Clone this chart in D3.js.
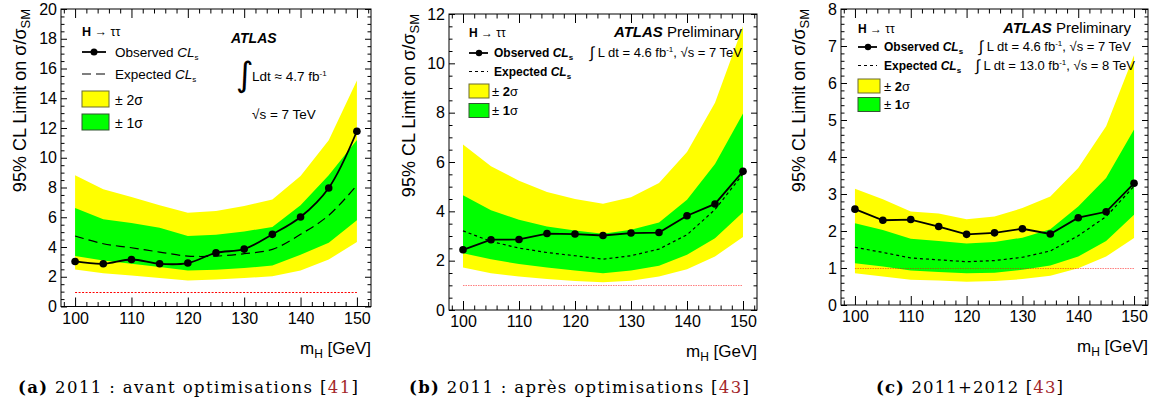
<!DOCTYPE html>
<html>
<head>
<meta charset="utf-8">
<script src="https://cdn.jsdelivr.net/npm/d3@7"></script>
<style>
    body { margin: 0; background: #fff; }
    svg { display: block; font-family: "Liberation Sans", Arial, sans-serif; }
</style>
</head>
<body>
<svg id="chart" width="1152" height="409"></svg>
<script>
// mass points (GeV)
const massPoints = [100, 105, 110, 115, 120, 125, 130, 135, 140, 145, 150];
const xTickLabels = [100, 110, 120, 130, 140, 150];

// (a) 2011 : avant optimisations
const obsA = [3.03, 2.87, 3.16, 2.87, 2.92, 3.61, 3.86, 4.85, 6.02, 7.97, 11.78];
const expA = [4.74, 4.22, 3.95, 3.66, 3.39, 3.39, 3.55, 3.84, 4.85, 6.13, 8.15];
const up1A = [6.62, 5.86, 5.61, 5.30, 4.74, 4.83, 5.05, 5.34, 6.80, 8.82, 11.2];
const dn1A = [3.39, 3.10, 2.87, 2.65, 2.42, 2.47, 2.58, 2.76, 3.48, 4.29, 5.79];
const up2A = [8.82, 7.88, 7.36, 6.80, 6.31, 6.42, 6.75, 7.20, 8.77, 11.18, 15.2];
const dn2A = [2.49, 2.24, 2.09, 1.91, 1.75, 1.82, 1.91, 2.04, 2.42, 3.16, 4.33];
const yTicksA = [0, 2, 4, 6, 8, 10, 12, 14, 16, 18, 20];

// (b) 2011 : apres optimisations
const obsB = [2.44, 2.85, 2.86, 3.10, 3.08, 3.02, 3.12, 3.14, 3.82, 4.30, 5.62];
const expB = [3.21, 2.78, 2.51, 2.33, 2.20, 2.06, 2.20, 2.47, 3.05, 4.07, 5.52];
const up1B = [4.65, 4.04, 3.66, 3.39, 3.22, 3.09, 3.25, 3.55, 4.47, 5.92, 7.97];
const dn1B = [2.30, 2.06, 1.86, 1.72, 1.60, 1.49, 1.60, 1.79, 2.24, 2.91, 3.96];
const up2B = [6.71, 5.83, 5.24, 4.78, 4.50, 4.31, 4.57, 5.15, 6.41, 8.40, 11.5];
const dn2B = [1.72, 1.49, 1.36, 1.26, 1.18, 1.13, 1.19, 1.36, 1.65, 2.17, 2.96];
const yTicksB = [0, 2, 4, 6, 8, 10, 12];

// (c) 2011+2012
const obsC = [2.59, 2.29, 2.31, 2.12, 1.91, 1.95, 2.06, 1.92, 2.36, 2.52, 3.29];
const expC = [1.56, 1.42, 1.27, 1.22, 1.17, 1.20, 1.29, 1.46, 1.87, 2.39, 3.21];
const up1C = [2.21, 2.03, 1.79, 1.73, 1.66, 1.70, 1.82, 2.05, 2.66, 3.43, 4.74];
const dn1C = [1.13, 1.04, 0.93, 0.89, 0.86, 0.87, 0.95, 1.07, 1.31, 1.73, 2.44];
const up2C = [3.14, 2.86, 2.53, 2.47, 2.32, 2.39, 2.62, 2.93, 3.70, 4.83, 6.75];
const dn2C = [0.86, 0.77, 0.68, 0.66, 0.63, 0.65, 0.70, 0.79, 0.99, 1.31, 1.81];
const yTicksC = [0, 1, 2, 3, 4, 5, 6, 7, 8];

// SM reference line
const smLine = [1, 1];
const smRange = [100, 150];

const yellow = '#ffff00';
const green = '#00ff00';
const refRed = '#a3262a';

const svg = d3.select('#chart');
svg.append('rect').attr('width', 1152).attr('height', 409).attr('fill', '#fff');

function drawPanel(p) {
    let x = d3.scaleLinear().domain([97.5, 152.5]).range([p.left, p.right]);
    let y = d3.scaleLinear().domain([0, p.yMax]).range([p.bottom, p.top]);

    let g = svg.append('g');

    let rows = massPoints.map(function (m, i) {
        return {m: m, obs: p.obs[i], exp: p.exp[i], up1: p.up1[i], dn1: p.dn1[i], up2: p.up2[i], dn2: p.dn2[i]};
    });

// bands
    g.append('path')
        .datum(rows)
        .attr('fill', yellow)
        .attr('d', d3.area().x(d => x(d.m)).y0(d => y(d.dn2)).y1(d => y(d.up2)));

    g.append('path')
        .datum(rows)
        .attr('fill', green)
        .attr('d', d3.area().x(d => x(d.m)).y0(d => y(d.dn1)).y1(d => y(d.up1)));

// SM line at 1 (snapped to the pixel grid so the dots stay red)
    g.append('line')
        .attr('x1', x(smRange[0])).attr('x2', x(smRange[1]))
        .attr('y1', Math.round(y(smLine[0])) + 0.5).attr('y2', Math.round(y(smLine[1])) + 0.5)
        .attr('stroke', p.smColor)
        .attr('stroke-width', 1)
        .attr('stroke-opacity', p.smOpacity)
        .attr('stroke-dasharray', p.smDash);

    let curve = p.smooth ? d3.curveCatmullRom.alpha(0.5) : d3.curveLinear;

// expected
    g.append('path')
        .datum(rows)
        .attr('fill', 'none')
        .attr('stroke', '#000')
        .attr('stroke-width', 1.2)
        .attr('stroke-dasharray', p.expDash)
        .attr('d', d3.line().curve(curve).x(d => x(d.m)).y(d => y(d.exp)));

// observed
    g.append('path')
        .datum(rows)
        .attr('fill', 'none')
        .attr('stroke', '#000')
        .attr('stroke-width', 1.8)
        .attr('d', d3.line().curve(curve).x(d => x(d.m)).y(d => y(d.obs)));

    g.selectAll('.obsdot')
        .data(rows)
        .enter().append('circle')
        .attr('cx', d => x(d.m))
        .attr('cy', d => y(d.obs))
        .attr('r', 3.8)
        .attr('fill', '#000');

// axes (ticks inside the frame, ROOT style)
    let xMinor = d3.range(98, 153, 2).filter(v => v % 10 !== 0);
    let yMinor = d3.range(0, p.yMax + 1e-6, p.yMinor).filter(v => Math.abs(v / p.yMajor - Math.round(v / p.yMajor)) > 1e-6);

    function style(sel) {
        sel.select('.domain').remove();
        sel.selectAll('line').attr('stroke', '#000');
        sel.selectAll('text')
            .attr('font-family', '"Liberation Sans", Arial, sans-serif')
            .attr('font-size', 16)
            .attr('fill', '#000');
    }

    g.append('g').attr('transform', 'translate(0,' + p.bottom + ')')
        .call(d3.axisBottom(x).tickValues(xTickLabels).tickSize(-9).tickPadding(6).tickFormat(d3.format('d')))
        .call(style);
    g.append('g').attr('transform', 'translate(0,' + p.bottom + ')')
        .call(d3.axisBottom(x).tickValues(xMinor).tickSize(-4.5).tickFormat(''))
        .call(style);
    g.append('g').attr('transform', 'translate(0,' + p.top + ')')
        .call(d3.axisTop(x).tickValues(xTickLabels).tickSize(-9).tickFormat(''))
        .call(style);
    g.append('g').attr('transform', 'translate(0,' + p.top + ')')
        .call(d3.axisTop(x).tickValues(xMinor).tickSize(-4.5).tickFormat(''))
        .call(style);

    g.append('g').attr('transform', 'translate(' + p.left + ',0)')
        .call(d3.axisLeft(y).tickValues(p.yTicks).tickSize(-6).tickPadding(4).tickFormat(d3.format('d')))
        .call(style);
    g.append('g').attr('transform', 'translate(' + p.left + ',0)')
        .call(d3.axisLeft(y).tickValues(yMinor).tickSize(-3.5).tickFormat(''))
        .call(style);
    g.append('g').attr('transform', 'translate(' + p.right + ',0)')
        .call(d3.axisRight(y).tickValues(p.yTicks).tickSize(-6).tickFormat(''))
        .call(style);
    g.append('g').attr('transform', 'translate(' + p.right + ',0)')
        .call(d3.axisRight(y).tickValues(yMinor).tickSize(-3.5).tickFormat(''))
        .call(style);

// frame
    g.append('rect')
        .attr('x', p.left).attr('y', p.top)
        .attr('width', p.right - p.left).attr('height', p.bottom - p.top)
        .attr('fill', 'none')
        .attr('stroke', '#000')
        .attr('stroke-width', 1);

// y title
    let yt = g.append('text')
        .attr('transform', 'translate(' + p.yTitleX + ',' + p.top + ') rotate(-90)')
        .attr('text-anchor', 'end')
        .attr('font-size', 18);
    yt.append('tspan').text('95% CL Limit on σ/σ');
    yt.append('tspan').attr('font-size', 13).attr('dy', 4).text('SM');

// x title
    let xt = g.append('text')
        .attr('x', p.right)
        .attr('y', p.bottom + 47)
        .attr('text-anchor', 'end')
        .attr('font-size', 17);
    xt.append('tspan').text('m');
    xt.append('tspan').attr('font-size', 12).attr('dy', 4).text('H');
    xt.append('tspan').attr('dy', -4).text(' [GeV]');

// caption
    let cap = g.append('text')
        .attr('x', p.capX)
        .attr('y', 393)
        .attr('font-family', '"DejaVu Serif", "Liberation Serif", serif')
        .attr('font-size', 16.5)
        .attr('textLength', p.capLen)
        .attr('lengthAdjust', 'spacing');
    cap.append('tspan').attr('font-weight', 'bold').text(p.capTag);
    cap.append('tspan').text(' ' + p.capText + ' [');
    cap.append('tspan').attr('fill', refRed).text(p.capRef);
    cap.append('tspan').text(']');

    p.legend(g);
}

// CL_s helper
function clsText(t, label, bold) {
    t.append('tspan').attr('font-weight', bold ? 'bold' : 'normal').text(label + ' ');
    t.append('tspan').attr('font-weight', bold ? 'bold' : 'normal').attr('font-style', 'italic').text('CL');
    t.append('tspan').attr('font-weight', bold ? 'bold' : 'normal').attr('font-size', 8).attr('dy', 3).text('s');
}

function fbText(t, prefix, lumi, energy) {
    t.append('tspan').attr('font-size', 16).attr('dy', 1).text('∫');
    t.append('tspan').attr('dy', -1).text(' L dt = ' + lumi + ' fb');
    t.append('tspan').attr('font-size', 8).attr('dy', -5).text('-1');
    t.append('tspan').attr('dy', 5).text(', √s = ' + energy + ' TeV');
}

function legendBox(g, bx, by, w, h, fill, border) {
    g.append('rect').attr('x', bx).attr('y', by).attr('width', w).attr('height', h)
        .attr('fill', fill).attr('stroke', border).attr('stroke-width', 1);
}

function legendA(g) {
    let fs = 12.5;
    let t = g.append('text').attr('x', 82).attr('y', 36).attr('font-size', fs);
    t.append('tspan').attr('font-weight', 'bold').text('H');
    t.append('tspan').text(' → ττ');

    g.append('line').attr('x1', 82).attr('x2', 106).attr('y1', 52).attr('y2', 52)
        .attr('stroke', '#000').attr('stroke-width', 1.8);
    g.append('circle').attr('cx', 94).attr('cy', 52).attr('r', 3.5).attr('fill', '#000');
    clsText(g.append('text').attr('x', 115).attr('y', 57).attr('font-size', 13.5), 'Observed', false);

    g.append('line').attr('x1', 82).attr('x2', 108).attr('y1', 74).attr('y2', 74)
        .attr('stroke', '#000').attr('stroke-width', 1.2).attr('stroke-dasharray', '9,5');
    clsText(g.append('text').attr('x', 115).attr('y', 79).attr('font-size', 13.5), 'Expected', false);

    legendBox(g, 82, 91, 27, 16, yellow, '#6b6b30');
    g.append('text').attr('x', 115).attr('y', 105).attr('font-size', 14).text('± 2σ');
    legendBox(g, 82, 114, 27, 16, green, '#335533');
    g.append('text').attr('x', 115).attr('y', 128).attr('font-size', 14).text('± 1σ');

    g.append('text').attr('x', 231).attr('y', 43).attr('font-size', 14)
        .attr('font-weight', 'bold').attr('font-style', 'italic').text('ATLAS');

    g.append('text').attr('x', 236).attr('y', 86).attr('font-size', 34)
        .attr('font-family', '"DejaVu Sans", sans-serif').text('∫');
    let l = g.append('text').attr('x', 252).attr('y', 81).attr('font-size', 13.5);
    l.append('tspan').text('Ldt ≈ 4.7 fb');
    l.append('tspan').attr('font-size', 8).attr('dy', -5).text('-1');
    g.append('text').attr('x', 252).attr('y', 119).attr('font-size', 13.5).text('√s = 7 TeV');
}

function legendPrelim(g, o) {
    let fs = 12;
    let t = g.append('text').attr('x', o.x).attr('y', o.yH).attr('font-size', fs);
    t.append('tspan').attr('font-weight', 'bold').text('H');
    t.append('tspan').text(' → ττ');

    let a = g.append('text').attr('x', o.atlasEnd).attr('y', o.yAtlas)
        .attr('text-anchor', 'end').attr('font-size', 15);
    a.append('tspan').attr('font-weight', 'bold').attr('font-style', 'italic').text('ATLAS');
    a.append('tspan').text(' Preliminary');

    g.append('line').attr('x1', o.x).attr('x2', o.x + 19).attr('y1', o.yObs).attr('y2', o.yObs)
        .attr('stroke', '#000').attr('stroke-width', 1.8);
    g.append('circle').attr('cx', o.x + 10).attr('cy', o.yObs).attr('r', 3.2).attr('fill', '#000');
    clsText(g.append('text').attr('x', o.textX).attr('y', o.yObs + 4).attr('font-size', fs), 'Observed', true);
    fbText(g.append('text').attr('x', o.lumiEnd1).attr('y', o.yObs + 4).attr('text-anchor', 'end').attr('font-size', 13), '', '4.6', '7');

    g.append('line').attr('x1', o.x).attr('x2', o.x + 19).attr('y1', o.yExp).attr('y2', o.yExp)
        .attr('stroke', '#000').attr('stroke-width', 1.2).attr('stroke-dasharray', '3,3');
    clsText(g.append('text').attr('x', o.textX).attr('y', o.yExp + 4).attr('font-size', fs), 'Expected', true);
    if (o.lumiEnd2) {
        fbText(g.append('text').attr('x', o.lumiEnd2).attr('y', o.yExp + 4).attr('text-anchor', 'end').attr('font-size', 13), '', '13.0', '8');
    }

    legendBox(g, o.x, o.yBox2, o.boxW, 14, yellow, '#6b6b30');
    let s2 = g.append('text').attr('x', o.boxTextX).attr('y', o.yBox2 + 11.5).attr('font-size', 13);
    s2.append('tspan').text('± ');
    s2.append('tspan').attr('font-weight', 'bold').text('2');
    s2.append('tspan').text('σ');
    legendBox(g, o.x, o.yBox1, o.boxW, 14, green, '#335533');
    let s1 = g.append('text').attr('x', o.boxTextX).attr('y', o.yBox1 + 11.5).attr('font-size', 13);
    s1.append('tspan').text('± ');
    s1.append('tspan').attr('font-weight', 'bold').text('1');
    s1.append('tspan').text('σ');
}

drawPanel({
    left: 61, right: 371, top: 9, bottom: 306.5,
    yMax: 20, yMajor: 2, yMinor: 0.5, yTicks: yTicksA,
    obs: obsA, exp: expA, up1: up1A, dn1: dn1A, up2: up2A, dn2: dn2A,
    smooth: true, expDash: '9,5',
    smColor: '#ff0000', smOpacity: 1, smDash: '2,1.5',
    yTitleX: 26,
    capX: 18, capLen: 340, capTag: '(a)', capText: '2011 : avant optimisations', capRef: '41',
    legend: legendA
});

drawPanel({
    left: 449, right: 757, top: 14, bottom: 310,
    yMax: 12, yMajor: 2, yMinor: 0.5, yTicks: yTicksB,
    obs: obsB, exp: expB, up1: up1B, dn1: dn1B, up2: up2B, dn2: dn2B,
    smooth: false, expDash: '3,3',
    smColor: '#ff0000', smOpacity: 0.5, smDash: '1.5,1',
    yTitleX: 415,
    capX: 409, capLen: 340, capTag: '(b)', capText: '2011 : après optimisations', capRef: '43',
    legend: function (g) {
        legendPrelim(g, {x: 469, yH: 37, atlasEnd: 742, yAtlas: 37, yObs: 53, yExp: 71.5,
            textX: 494, lumiEnd1: 742, lumiEnd2: null, boxW: 20, yBox2: 84, yBox1: 103.5, boxTextX: 492});
    }
});

drawPanel({
    left: 841, right: 1148, top: 9, bottom: 305,
    yMax: 8, yMajor: 1, yMinor: 0.2, yTicks: yTicksC,
    obs: obsC, exp: expC, up1: up1C, dn1: dn1C, up2: up2C, dn2: dn2C,
    smooth: false, expDash: '3,3',
    smColor: '#ff0000', smOpacity: 0.5, smDash: '1.5,1',
    yTitleX: 805,
    capX: 876, capLen: 187, capTag: '(c)', capText: '2011+2012', capRef: '43',
    legend: function (g) {
        legendPrelim(g, {x: 858, yH: 33, atlasEnd: 1131, yAtlas: 32.5, yObs: 47, yExp: 65.5,
            textX: 884, lumiEnd1: 1131, lumiEnd2: 1135, boxW: 22, yBox2: 79, yBox1: 97.5, boxTextX: 884});
    }
});
</script>
</body>
</html>
